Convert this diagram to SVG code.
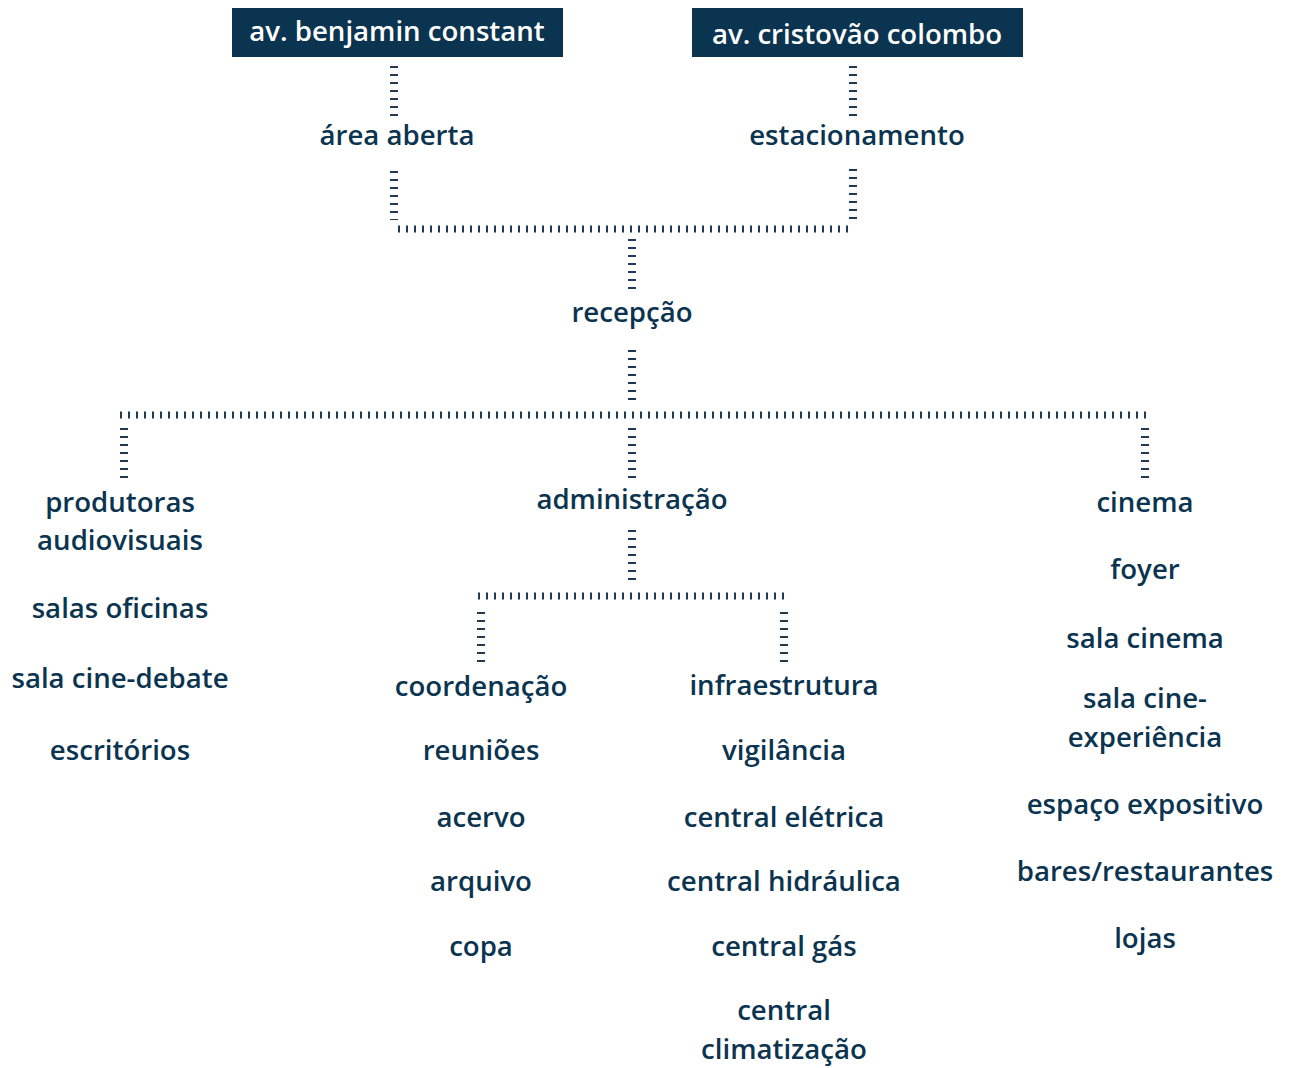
<svg xmlns="http://www.w3.org/2000/svg" width="1289" height="1068" viewBox="0 0 1289 1068">
<style>
text{font-family:"Open Sans","Noto Sans","DejaVu Sans",sans-serif;font-weight:600;font-size:27.6px;fill:#0b3450;text-anchor:middle}
.hd{fill:#ffffff}
.v{stroke:#1f3a55;stroke-width:8;stroke-dasharray:2 6;fill:none}
.h{stroke:#1f3a55;stroke-width:7;stroke-dasharray:2 6;fill:none}
</style>
<rect width="1289" height="1068" fill="#ffffff"/>
<g id="connectors">
<line class="v" x1="394" y1="66" x2="394" y2="116"/>
<line class="v" x1="853" y1="66" x2="853" y2="116"/>
<line class="v" x1="394" y1="171" x2="394" y2="220"/>
<line class="v" x1="853" y1="169" x2="853" y2="221"/>
<line class="h" x1="398" y1="229" x2="852" y2="229"/>
<line class="v" x1="632" y1="239" x2="632" y2="292"/>
<line class="v" x1="632" y1="350" x2="632" y2="402"/>
<line class="h" x1="120" y1="415" x2="1150" y2="415"/>
<line class="v" x1="124" y1="428" x2="124" y2="482"/>
<line class="v" x1="632" y1="428" x2="632" y2="482"/>
<line class="v" x1="1145" y1="428" x2="1145" y2="482"/>
<line class="v" x1="632" y1="530" x2="632" y2="582"/>
<line class="h" x1="478" y1="596" x2="790" y2="596"/>
<line class="v" x1="481" y1="612" x2="481" y2="664"/>
<line class="v" x1="784" y1="612" x2="784" y2="664"/>
</g>
<g id="benjamin">
<rect x="232" y="8" width="331" height="49" fill="#0b3450"/>
<text class="hd" x="397" y="41">av. benjamin constant</text>
</g>
<g id="cristovao">
<rect x="692" y="8" width="331" height="49" fill="#0b3450"/>
<text class="hd" x="857" y="44">av. cristovão colombo</text>
</g>
<g id="area-aberta"><text x="397" y="145">área aberta</text></g>
<g id="estacionamento"><text x="857" y="145">estacionamento</text></g>
<g id="recepcao"><text x="632" y="322">recepção</text></g>
<g id="produtoras">
<text x="120" y="512">produtoras</text>
<text x="120" y="550">audiovisuais</text>
<text x="120" y="618">salas oficinas</text>
<text x="120" y="688">sala cine-debate</text>
<text x="120" y="760">escritórios</text>
</g>
<g id="administracao"><text x="632" y="509">administração</text></g>
<g id="coordenacao">
<text x="481" y="696">coordenação</text>
<text x="481" y="760">reuniões</text>
<text x="481" y="827">acervo</text>
<text x="481" y="891">arquivo</text>
<text x="481" y="956">copa</text>
</g>
<g id="infraestrutura">
<text x="784" y="695">infraestrutura</text>
<text x="784" y="760">vigilância</text>
<text x="784" y="827">central elétrica</text>
<text x="784" y="891">central hidráulica</text>
<text x="784" y="956">central gás</text>
<text x="784" y="1020">central</text>
<text x="784" y="1059">climatização</text>
</g>
<g id="cinema">
<text x="1145" y="512">cinema</text>
<text x="1145" y="579">foyer</text>
<text x="1145" y="648">sala cinema</text>
<text x="1145" y="708">sala cine-</text>
<text x="1145" y="747">experiência</text>
<text x="1145" y="814">espaço expositivo</text>
<text x="1145" y="881">bares/restaurantes</text>
<text x="1145" y="948">lojas</text>
</g>
</svg>
